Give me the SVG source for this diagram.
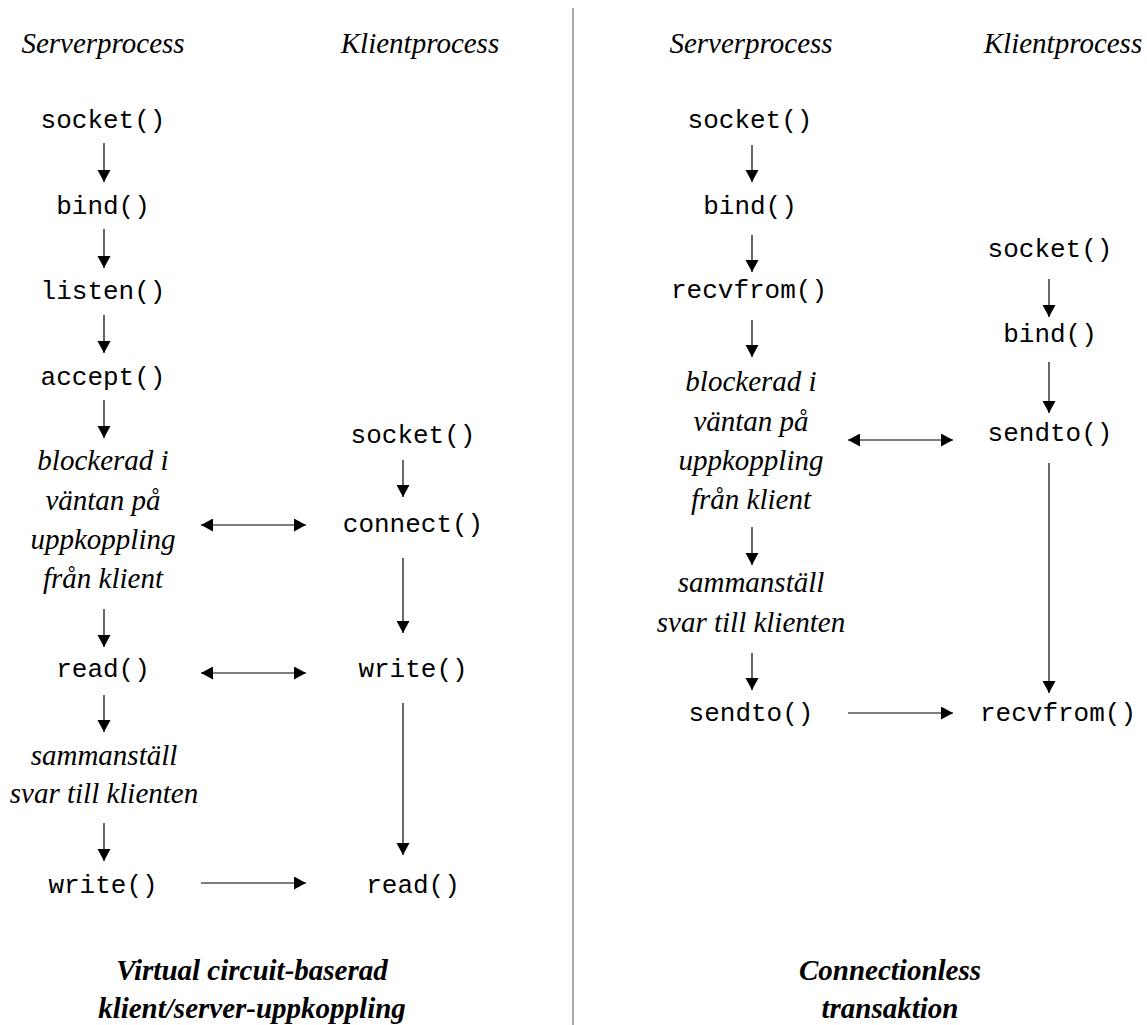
<svg xmlns="http://www.w3.org/2000/svg" width="1147" height="1025" viewBox="0 0 1147 1025">
<style>
.h{font-family:"Liberation Serif","Times New Roman",serif;font-style:italic;font-size:29px;fill:#000;text-anchor:middle}
.t{font-family:"Liberation Serif","Times New Roman",serif;font-style:italic;font-weight:bold;font-size:29px;fill:#000;text-anchor:middle}
.m{font-family:"Liberation Mono","Courier New",monospace;font-size:26px;fill:#000;text-anchor:middle}
.a{stroke:#000;stroke-width:1.2;fill:none;marker-end:url(#ah)}
.d{stroke:#000;stroke-width:1.2;fill:none;marker-end:url(#ah);marker-start:url(#as)}
</style>
<defs>
<marker id="ah" markerUnits="userSpaceOnUse" markerWidth="13" markerHeight="14" refX="12" refY="6.5" orient="auto"><path d="M0,0 L12,6.5 L0,13 z" fill="#000"/></marker>
<marker id="as" markerUnits="userSpaceOnUse" markerWidth="13" markerHeight="14" refX="0" refY="6.5" orient="auto"><path d="M12,0 L0,6.5 L12,13 z" fill="#000"/></marker>
</defs>
<rect width="1147" height="1025" fill="#fff"/>
<line x1="573" y1="8" x2="573" y2="1025" stroke="#555" stroke-width="1"/>

<g id="headers">
<text class="h" x="103" y="53">Serverprocess</text>
<text class="h" x="420" y="53">Klientprocess</text>
<text class="h" x="751" y="53">Serverprocess</text>
<text class="h" x="1063" y="53">Klientprocess</text>
</g>

<g id="l-socket"><text class="m" x="103" y="128">socket()</text></g>
<g id="l-bind"><text class="m" x="103" y="214">bind()</text></g>
<g id="l-listen"><text class="m" x="103" y="299">listen()</text></g>
<g id="l-accept"><text class="m" x="103" y="385">accept()</text></g>
<g id="l-block"><text class="h" x="103" y="470">blockerad i</text><text class="h" x="103" y="510">väntan på</text><text class="h" x="103" y="549">uppkoppling</text><text class="h" x="103" y="588">från klient</text></g>
<g id="l-read"><text class="m" x="103" y="677">read()</text></g>
<g id="l-samman"><text class="h" x="104" y="765">sammanställ</text><text class="h" x="104" y="803">svar till klienten</text></g>
<g id="l-write"><text class="m" x="103" y="893">write()</text></g>

<g id="lc-socket"><text class="m" x="413" y="443">socket()</text></g>
<g id="lc-connect"><text class="m" x="413" y="532">connect()</text></g>
<g id="lc-write"><text class="m" x="413" y="677">write()</text></g>
<g id="lc-read"><text class="m" x="413" y="893">read()</text></g>

<g id="l-title"><text class="t" x="252" y="980">Virtual circuit-baserad</text><text class="t" x="252" y="1018">klient/server-uppkoppling</text></g>

<g id="r-socket"><text class="m" x="750" y="128">socket()</text></g>
<g id="r-bind"><text class="m" x="750" y="214">bind()</text></g>
<g id="r-recvfrom"><text class="m" x="749" y="298">recvfrom()</text></g>
<g id="r-block"><text class="h" x="751" y="391">blockerad i</text><text class="h" x="751" y="431">väntan på</text><text class="h" x="751" y="470">uppkoppling</text><text class="h" x="751" y="509">från klient</text></g>
<g id="r-samman"><text class="h" x="751" y="592">sammanställ</text><text class="h" x="751" y="632">svar till klienten</text></g>
<g id="r-sendto"><text class="m" x="751" y="721">sendto()</text></g>

<g id="rc-socket"><text class="m" x="1050" y="257">socket()</text></g>
<g id="rc-bind"><text class="m" x="1050" y="342">bind()</text></g>
<g id="rc-sendto"><text class="m" x="1050" y="441">sendto()</text></g>
<g id="rc-recvfrom"><text class="m" x="1058" y="721">recvfrom()</text></g>

<g id="r-title"><text class="t" x="890" y="980">Connectionless</text><text class="t" x="890" y="1018">transaktion</text></g>

<g id="connectors">
<line class="a" x1="104" y1="143" x2="104" y2="182"/>
<line class="a" x1="104" y1="229" x2="104" y2="268"/>
<line class="a" x1="104" y1="315" x2="104" y2="353"/>
<line class="a" x1="104" y1="400" x2="104" y2="438"/>
<line class="a" x1="104" y1="609" x2="104" y2="647"/>
<line class="a" x1="104" y1="695" x2="104" y2="732"/>
<line class="a" x1="104" y1="823" x2="104" y2="861"/>
<line class="a" x1="403" y1="460" x2="403" y2="497"/>
<line class="a" x1="403" y1="558" x2="403" y2="633"/>
<line class="a" x1="403" y1="703" x2="403" y2="855"/>
<line class="d" x1="201" y1="525" x2="306" y2="525"/>
<line class="d" x1="201" y1="673" x2="306" y2="673"/>
<line class="a" x1="201" y1="883" x2="306" y2="883"/>

<line class="a" x1="752" y1="145" x2="752" y2="182"/>
<line class="a" x1="752" y1="235" x2="752" y2="272"/>
<line class="a" x1="752" y1="320" x2="752" y2="357"/>
<line class="a" x1="752" y1="527" x2="752" y2="565"/>
<line class="a" x1="752" y1="653" x2="752" y2="690"/>
<line class="a" x1="1049" y1="279" x2="1049" y2="317"/>
<line class="a" x1="1049" y1="362" x2="1049" y2="413"/>
<line class="a" x1="1049" y1="463" x2="1049" y2="693"/>
<line class="d" x1="848" y1="440" x2="953" y2="440"/>
<line class="a" x1="848" y1="713" x2="953" y2="713"/>
</g>
</svg>
